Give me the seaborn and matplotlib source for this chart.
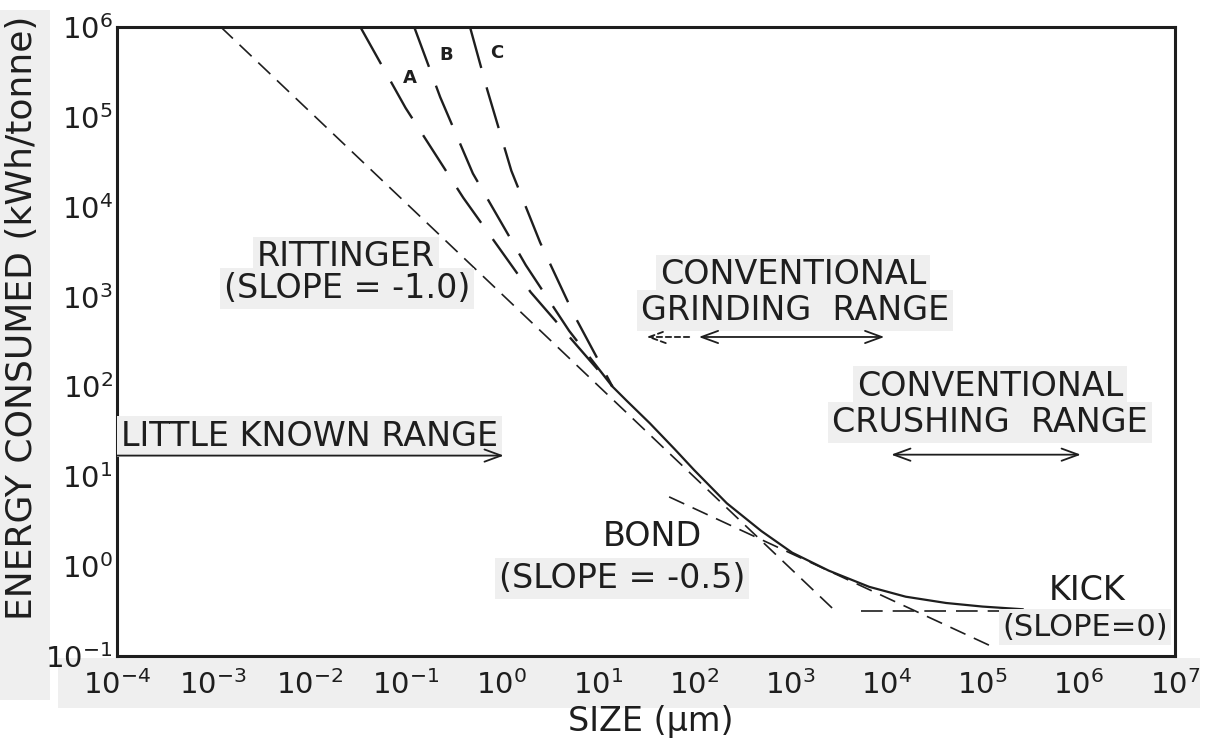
import numpy as np
import pandas as pd
import matplotlib
matplotlib.use("Agg")
import matplotlib.pyplot as plt
import seaborn as sns
from matplotlib.patches import Rectangle

sns.set_theme(style="white")
plt.rcParams['font.family'] = ['DejaVu Sans']
plt.rcParams['mathtext.fontset'] = 'dejavusans'

INK = '#1e1e1e'
GRAY = '#efefef'

# ---------------- data (size in µm, energy in kWh/tonne) ----------------
rittinger_x = [1.2e-3, 3.0e3]
rittinger_y = [1.0e6, 0.31]

bond_x = [55.0, 1.3e5]
bond_y = [5.9, 0.125]

kick_x = [5.5e3, 1.0e7]
kick_y = [0.32, 0.32]

# measured curve (solid), log10 values
curve_logx = [1.15, 1.3, 1.54, 1.8, 2.0, 2.34, 2.7, 3.02, 3.4, 3.82, 4.2, 4.62, 5.0, 5.42]
curve_logy = [2.0, 1.84, 1.59, 1.30, 1.07, 0.70, 0.39, 0.15, -0.05, -0.23, -0.34, -0.41, -0.45, -0.48]

# fine-grinding curves A, B, C, log10 values
a_logx = [-1.47, -1.0, -0.4, 0.3, 1.15]
a_logy = [6.0, 5.1, 4.1, 3.05, 2.0]
b_logx = [-0.91, -0.64, -0.30, 0.25, 0.7, 1.15]
b_logy = [6.0, 5.22, 4.37, 3.35, 2.62, 2.0]
c_logx = [-0.33, -0.15, 0.1, 0.4, 0.75, 1.15]
c_logy = [6.0, 5.3, 4.4, 3.6, 2.8, 2.0]

# size ranges
little_known_range = [1e-4, 1.05]
grinding_range = [112.0, 9.5e3]
grinding_ext = [32.0, 89.0]
crushing_range = [1.12e4, 1.05e6]
little_known_level = 17.0
grinding_level = 355.0
crushing_level = 17.4

x_tick_exp = list(range(-4, 8))
y_tick_exp = list(range(-1, 7))

# ---------------- figure ----------------
W, H = 1207, 749
fig = plt.figure(figsize=(W / 100, H / 100), dpi=100)
fig.patch.set_facecolor('white')
L, R, T, B = 117, 1175, 27, 656
ax = fig.add_axes([L / W, 1 - B / H, (R - L) / W, (B - T) / H])
ax.set_facecolor('white')

# scan-like light gray background patches (figure level, behind the axes)
fig.patches.append(Rectangle((0, 1 - 700 / H), 50 / W, 690 / H, transform=fig.transFigure,
                             fc=GRAY, ec='none', zorder=-5))
fig.patches.append(Rectangle((58 / W, 1 - 708 / H), 1142 / W, 50 / H, transform=fig.transFigure,
                             fc=GRAY, ec='none', zorder=-5))

def to_df(lx, ly):
    return pd.DataFrame({'x': np.power(10.0, lx), 'y': np.power(10.0, ly)})

short_dash = (0, (10.0, 5.5))
kick_dash = (0, (13.0, 6.0))
long_dash = (0, (18.0, 8.5))

sns.lineplot(data=pd.DataFrame({'x': rittinger_x, 'y': rittinger_y}), x='x', y='y', ax=ax,
             sort=False, estimator=None, color=INK, lw=1.2, linestyle=short_dash)
sns.lineplot(data=pd.DataFrame({'x': bond_x, 'y': bond_y}), x='x', y='y', ax=ax,
             sort=False, estimator=None, color=INK, lw=1.2, linestyle=short_dash)
sns.lineplot(data=pd.DataFrame({'x': kick_x, 'y': kick_y}), x='x', y='y', ax=ax,
             sort=False, estimator=None, color=INK, lw=1.2, linestyle=kick_dash)
for lx, ly in [(a_logx, a_logy), (b_logx, b_logy), (c_logx, c_logy)]:
    sns.lineplot(data=to_df(lx, ly), x='x', y='y', ax=ax, sort=False, estimator=None,
                 color=INK, lw=1.7, linestyle=long_dash)
sns.lineplot(data=to_df(curve_logx, curve_logy), x='x', y='y', ax=ax, sort=False,
             estimator=None, color=INK, lw=1.6)

ax.set_xscale('log')
ax.set_yscale('log')
ax.set_xlim(1e-4, 1e7)
ax.set_ylim(1e-1, 1e6)

ax.set_xticks([10.0 ** k for k in x_tick_exp])
ax.set_xticklabels([f'$10^{{{k}}}$' for k in x_tick_exp])
ax.set_yticks([10.0 ** k for k in y_tick_exp])
ax.set_yticklabels([f'$10^{{{k}}}$' for k in y_tick_exp])
ax.minorticks_off()
ax.tick_params(axis='x', direction='in', length=12, width=1.4, pad=10, labelsize=21,
               colors=INK)
ax.tick_params(axis='y', direction='in', length=14, width=1.4, pad=3, labelsize=21,
               colors=INK)
for s in ax.spines.values():
    s.set_linewidth(2.2)
    s.set_color(INK)
    s.set_visible(True)

ax.set_xlabel('SIZE (µm)', fontsize=24, color=INK, va='center')
ax.xaxis.set_label_coords((651 - L) / (R - L), (B - 722) / (B - T))
ax.set_ylabel('ENERGY CONSUMED (kWh/tonne)', fontsize=26, color=INK, va='center')
ax.yaxis.set_label_coords((22 - L) / (R - L), (B - 318) / (B - T))

def px(x, y):
    return ((x - L) / (R - L), (B - y) / (B - T))

box = dict(boxstyle='square,pad=0.12', fc=GRAY, ec='none')

def label(x, y, s, size=24, ha='center', bbox=box, weight='normal'):
    ax.text(*px(x, y), s, transform=ax.transAxes, ha=ha, va='center', fontsize=size,
            color=INK, bbox=bbox, weight=weight, zorder=5)

label(346, 257, 'RITTINGER')
label(347, 288, '(SLOPE = -1.0)')
label(793, 275, 'CONVENTIONAL')
label(795, 311, 'GRINDING  RANGE')
label(990, 386, 'CONVENTIONAL')
label(990, 422, 'CRUSHING  RANGE')
label(121, 436, 'LITTLE KNOWN RANGE', ha='left')
label(652, 537, 'BOND', bbox=None)
label(622, 578, '(SLOPE = -0.5)')
label(1087, 591, 'KICK', bbox=None)
label(1085, 627, '(SLOPE=0)', size=22)
label(410, 78, 'A', size=13, bbox=None, weight='bold')
label(446, 55, 'B', size=13, bbox=None, weight='bold')
label(497, 53, 'C', size=13, bbox=None, weight='bold')

arrow_kw = dict(lw=1.3, color=INK, shrinkA=0, shrinkB=0, mutation_scale=20)
for start, end, lvl, style, ls in [
        (little_known_range[0], little_known_range[1], little_known_level, '->', '-'),
        (grinding_range[0], grinding_range[1], grinding_level, '<->', '-'),
        (grinding_ext[1], grinding_ext[0], grinding_level, '->', (0, (3, 2))),
        (crushing_range[0], crushing_range[1], crushing_level, '<->', '-')]:
    ann = ax.annotate('', xy=(end, lvl), xytext=(start, lvl),
                      arrowprops=dict(arrowstyle=f'{style},head_length=0.6,head_width=0.22',
                                      linestyle=ls, **arrow_kw))
    ann.set_zorder(7)
    ann.arrow_patch.set_zorder(7)

fig.savefig('out.png', dpi=100, facecolor=fig.get_facecolor())
